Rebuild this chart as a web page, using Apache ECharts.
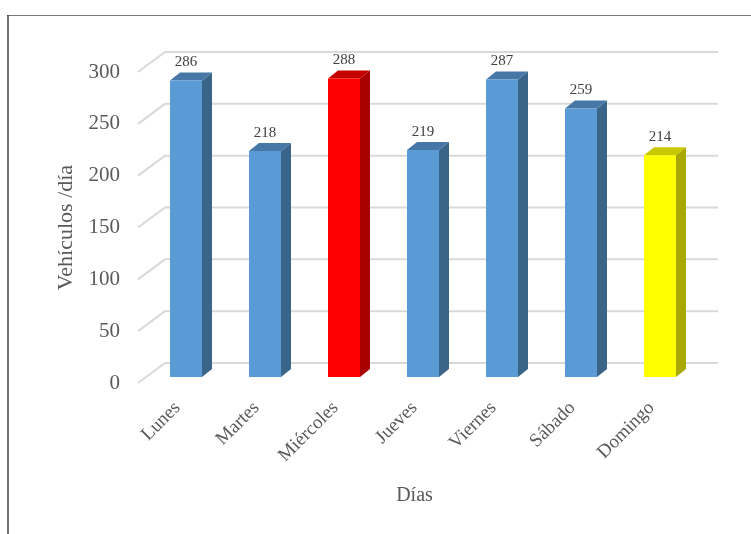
<!DOCTYPE html>
<html>
<head>
<meta charset="utf-8">
<script src="https://cdn.jsdelivr.net/npm/echarts@6/dist/echarts.min.js"></script>
<style>
  html, body { margin: 0; padding: 0; background: #ffffff; }
  #chart { width: 751px; height: 534px; }
</style>
</head>
<body>
<div id="chart"></div>
<script>
// Vehicle counts per weekday
const categories = ['Lunes', 'Martes', 'Miércoles', 'Jueves', 'Viernes', 'Sábado', 'Domingo'];
const vehicles = [286, 218, 288, 219, 287, 259, 214];
const yTicks = [0, 50, 100, 150, 200, 250, 300];

const FONT = '"Liberation Serif", "Times New Roman", serif';
const TEXT = '#595959';

// 3D look: wall depth, bar placement inside the wall, bar depth
const WALL_DX = 27, WALL_DY = -20;
const BAR_OX = 8.5, BAR_OY = -6;
const BAR_DX = 10, BAR_DY = -8;
const BAR_W = 32;

// Face colours: highest day red, lowest day yellow, the rest blue
const palette = {
  normal: { front: '#5b9bd5', side: '#3b6489', top: '#4677a6' },
  high:   { front: '#ff0000', side: '#a80000', top: '#c40000' },
  low:    { front: '#ffff00', side: '#a8a800', top: '#c8c800' }
};
const maxV = Math.max(...vehicles), minV = Math.min(...vehicles);
function faceSet(v) {
  if (v === maxV) return palette.high;
  if (v === minV) return palette.low;
  return palette.normal;
}

const chart = echarts.init(document.getElementById('chart'), null, { renderer: 'canvas' });

function renderWall(params, api) {
  const cs = params.coordSys;
  const y = api.coord([0, api.value(1)])[1];
  return {
    type: 'polyline',
    shape: {
      points: [
        [cs.x, y],
        [cs.x + WALL_DX, y + WALL_DY],
        [cs.x + cs.width + WALL_DX, y + WALL_DY]
      ]
    },
    style: { stroke: '#d9d9d9', lineWidth: 2, fill: null }
  };
}

function renderBar(params, api) {
  const idx = api.value(0);
  const val = api.value(1);
  const base = api.coord([idx, 0]);
  const top = api.coord([idx, val]);
  const x0 = base[0] - BAR_W / 2 + BAR_OX;
  const x1 = x0 + BAR_W;
  const yb = base[1] + BAR_OY;
  const yt = top[1] + BAR_OY;
  const c = faceSet(val);
  return {
    type: 'group',
    children: [
      {
        type: 'polygon',
        shape: { points: [[x1, yt], [x1 + BAR_DX, yt + BAR_DY], [x1 + BAR_DX, yb + BAR_DY], [x1, yb]] },
        style: { fill: c.side }
      },
      {
        type: 'polygon',
        shape: { points: [[x0, yt], [x0 + BAR_DX, yt + BAR_DY], [x1 + BAR_DX, yt + BAR_DY], [x1, yt]] },
        style: { fill: c.top }
      },
      {
        type: 'rect',
        shape: { x: x0, y: yt, width: BAR_W, height: yb - yt },
        style: { fill: c.front }
      },
      {
        type: 'text',
        style: {
          x: x0 + BAR_W / 2,
          y: yt + BAR_DY - 10,
          text: String(val),
          fill: '#404040',
          font: '15px ' + FONT,
          align: 'center',
          verticalAlign: 'middle'
        }
      }
    ]
  };
}

chart.setOption({
  animation: false,
  backgroundColor: '#ffffff',
  graphic: [
    { type: 'line', shape: { x1: 7, y1: 15.5, x2: 760, y2: 15.5 }, style: { stroke: '#7a7a7a', lineWidth: 1.2 } },
    { type: 'line', shape: { x1: 8, y1: 15, x2: 8, y2: 540 }, style: { stroke: '#474747', lineWidth: 1.5 } }
  ],
  grid: { left: 138, top: 72, width: 553, height: 311 },
  xAxis: {
    type: 'category',
    data: categories,
    name: 'Días',
    nameLocation: 'middle',
    nameGap: 103,
    nameTextStyle: { fontFamily: FONT, fontSize: 20, color: TEXT },
    axisLine: { show: false },
    axisTick: { show: false },
    axisLabel: {
      rotate: 45,
      margin: 22,
      interval: 0,
      fontFamily: FONT,
      fontSize: 19,
      color: TEXT
    }
  },
  yAxis: {
    type: 'value',
    min: 0,
    max: 300,
    interval: 50,
    name: 'Vehículos /día',
    nameLocation: 'middle',
    nameGap: 60,
    nameTextStyle: { fontFamily: FONT, fontSize: 22, color: TEXT },
    axisLine: { show: false },
    axisTick: { show: false },
    splitLine: { show: false },
    axisLabel: { margin: 18, fontFamily: FONT, fontSize: 21, color: TEXT }
  },
  series: [
    {
      type: 'custom',
      name: 'walls',
      renderItem: renderWall,
      data: yTicks.map(v => [0, v]),
      z: 1,
      silent: true
    },
    {
      type: 'custom',
      name: 'Vehículos',
      renderItem: renderBar,
      data: vehicles.map((v, i) => [i, v]),
      z: 2
    }
  ]
});
</script>
</body>
</html>
